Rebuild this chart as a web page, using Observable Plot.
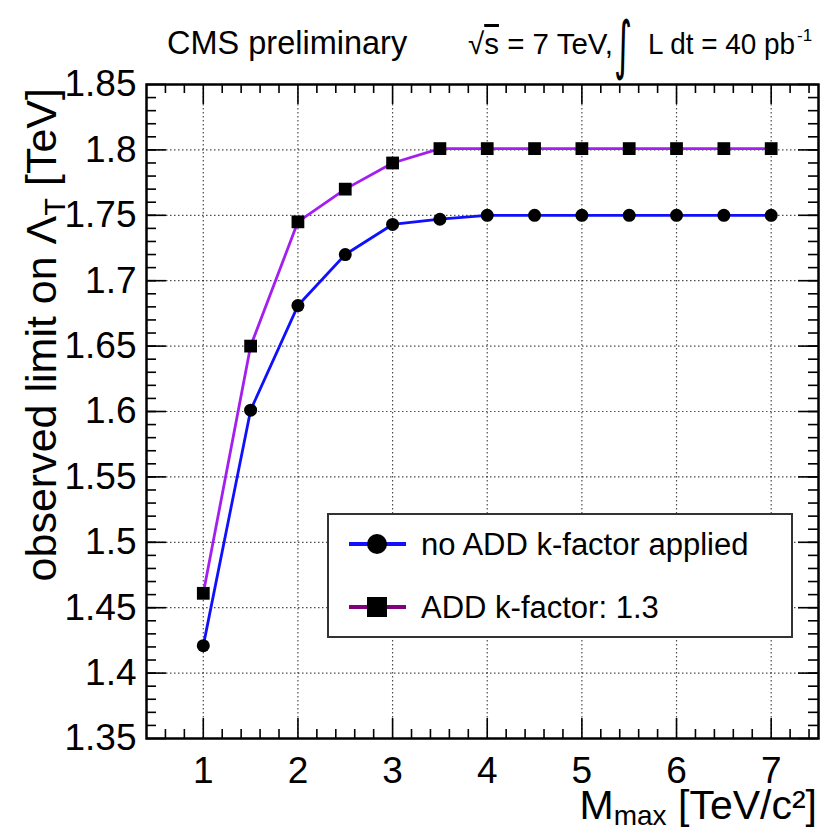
<!DOCTYPE html>
<html><head><meta charset="utf-8">
<script src="https://cdn.jsdelivr.net/npm/d3@7"></script>
<script src="https://cdn.jsdelivr.net/npm/@observablehq/plot@0.6"></script>
<style>
html,body{margin:0;padding:0;background:#fff;}
#chart{width:827px;height:831px;}
svg{display:block;}
</style></head><body><div id="chart"></div>
<script>
// ---- data ----
const mMax = [1, 1.5, 2, 2.5, 3, 3.5, 4, 4.5, 5, 5.5, 6, 6.5, 7];
const limitNoK = [1.421, 1.601, 1.681, 1.720, 1.743, 1.747, 1.750, 1.750, 1.750, 1.750, 1.750, 1.750, 1.750];
const limitK13 = [1.461, 1.650, 1.745, 1.770, 1.790, 1.801, 1.801, 1.801, 1.801, 1.801, 1.801, 1.801, 1.801];
const seriesNames = ["no ADD k-factor applied", "ADD k-factor: 1.3"];
const seriesColors = ["#1010ff", "#a31ff0"];
const legendColors = ["#1010ff", "#800080"];
const seriesSymbols = ["circle", "square"];
const xTicks = [1, 2, 3, 4, 5, 6, 7];
const xTickLabels = ["1", "2", "3", "4", "5", "6", "7"];
const yTicks = [1.35, 1.4, 1.45, 1.5, 1.55, 1.6, 1.65, 1.7, 1.75, 1.8, 1.85];
const yTickLabels = ["1.35", "1.4", "1.45", "1.5", "1.55", "1.6", "1.65", "1.7", "1.75", "1.8", "1.85"];

// ---- build table ----
const rows = [];
[limitNoK, limitK13].forEach((vals, s) => {
  vals.forEach((v, i) => rows.push({series: seriesNames[s], m: mMax[i], lim: v}));
});
const xDom = [0.4, 7.5], yDom = [1.35, 1.85];
const xMinor = d3.range(3, 38).map(i => i / 5).filter(v => !xTicks.includes(v));
const yMinor = d3.range(136, 185).map(i => i / 100);

const W = 827, H = 831;
const mL = 146, mR = 9, mT = 84, mB = 93;
const fw = W - mL - mR, fh = H - mT - mB;
// tick lengths expressed in data units of each scale
const px2y = (yDom[1] - yDom[0]) / fh, px2x = (xDom[1] - xDom[0]) / fw;
const font = "'Liberation Sans', Arial, Helvetica, sans-serif";
const tk = {stroke: "black", strokeWidth: 1.6};
const ticksBottom = (vals, len) => Plot.ruleX(vals, {x: d => d, y1: yDom[0], y2: yDom[0] + len * px2y, ...tk});
const ticksTop = (vals, len) => Plot.ruleX(vals, {x: d => d, y1: yDom[1], y2: yDom[1] - len * px2y, ...tk});
const ticksLeft = (vals, len) => Plot.ruleY(vals, {y: d => d, x1: xDom[0], x2: xDom[0] + len * px2x, ...tk});
const ticksRight = (vals, len) => Plot.ruleY(vals, {y: d => d, x1: xDom[1], x2: xDom[1] - len * px2x, ...tk});

const plot = Plot.plot({
  width: W, height: H,
  marginLeft: mL, marginRight: mR, marginTop: mT, marginBottom: mB,
  x: {domain: xDom},
  y: {domain: yDom},
  color: {domain: seriesNames, range: seriesColors},
  style: {fontFamily: font, fontSize: "37px", color: "black", background: "white", overflow: "visible"},
  marks: [
    Plot.gridX(xTicks, {stroke: "#000", strokeOpacity: 0.7, strokeDasharray: "1.5,2.5", strokeWidth: 1.2}),
    Plot.gridY(yTicks, {stroke: "#000", strokeOpacity: 0.7, strokeDasharray: "1.5,2.5", strokeWidth: 1.2}),
    ticksBottom(xMinor, 9), ticksBottom(xTicks, 20),
    ticksTop(xMinor, 9), ticksTop(xTicks, 20),
    ticksLeft(yMinor, 10), ticksLeft(yTicks, 20),
    ticksRight(yMinor, 10), ticksRight(yTicks, 20),
    Plot.axisX(xTicks, {anchor: "bottom", tickSize: 0, tickPadding: 18, label: null,
      tickFormat: (d, i) => xTickLabels[i], fontSize: 37}),
    Plot.axisY(yTicks, {anchor: "left", tickSize: 0, tickPadding: 10, label: null,
      tickFormat: (d, i) => yTickLabels[i], fontSize: 37}),
    Plot.line(rows, {x: "m", y: "lim", z: "series", stroke: "series", strokeWidth: 2.8}),
    Plot.dot(rows.filter(r => r.series === seriesNames[0]), {x: "m", y: "lim", r: 6.5, fill: "black", symbol: "circle"}),
    Plot.dot(rows.filter(r => r.series === seriesNames[1]), {x: "m", y: "lim", r: 7.2, fill: "black", symbol: "square"}),
    Plot.frame({stroke: "black", strokeWidth: 2.5})
  ]
});
document.getElementById("chart").appendChild(plot);

// ---- annotations ----
const svg = d3.select(plot);
const g = svg.append("g").attr("font-family", font).attr("fill", "black").attr("text-anchor", "start");

// header
const hb = 54;
g.append("text").attr("x", 167).attr("y", hb).attr("font-size", 32.5).text("CMS preliminary");
const h1 = g.append("text").attr("x", 468).attr("y", hb).attr("font-size", 30)
  .attr("textLength", 145).attr("lengthAdjust", "spacingAndGlyphs");
h1.append("tspan").text("√");
h1.append("tspan").attr("text-decoration", "overline").text("s");
h1.append("tspan").text(" = 7 TeV,");
g.append("text").attr("x", 614).attr("y", hb + 13).attr("font-size", 64)
  .attr("textLength", 18).attr("lengthAdjust", "spacingAndGlyphs")
  .attr("font-family", "'DejaVu Sans', sans-serif").text("∫");
g.append("text").attr("x", 648).attr("y", hb).attr("font-size", 29.5)
  .attr("textLength", 147).attr("lengthAdjust", "spacingAndGlyphs").text("L dt = 40 pb");
g.append("text").attr("x", 797).attr("y", hb - 13).attr("font-size", 17).text("-1");

// y axis title
const yt = g.append("text").attr("transform", "translate(56,88) rotate(-90)")
  .attr("text-anchor", "end").attr("font-size", 43);
yt.append("tspan").text("observed limit on Λ");
yt.append("tspan").attr("font-size", 29).attr("dy", 9).text("T");
yt.append("tspan").attr("dy", -9).text(" [TeV]");

// x axis title
const xt = g.append("text").attr("x", 817).attr("y", 819).attr("text-anchor", "end").attr("font-size", 41);
xt.append("tspan").text("M");
xt.append("tspan").attr("font-size", 28).attr("dy", 6).text("max");
xt.append("tspan").attr("dy", -6).text(" [TeV/c²]");

// legend
const lg = svg.append("g").attr("font-family", font).attr("text-anchor", "start");
lg.append("rect").attr("x", 328).attr("y", 514).attr("width", 464).attr("height", 123)
  .attr("fill", "white").attr("stroke", "#333").attr("stroke-width", 2);
seriesNames.forEach((name, i) => {
  const cy = 544 + i * 63;
  lg.append("line").attr("x1", 349).attr("x2", 406).attr("y1", cy).attr("y2", cy)
    .attr("stroke", legendColors[i]).attr("stroke-width", 4);
  if (seriesSymbols[i] === "circle") {
    lg.append("circle").attr("cx", 377).attr("cy", cy).attr("r", 10).attr("fill", "black");
  } else {
    lg.append("rect").attr("x", 367).attr("y", cy - 10).attr("width", 20).attr("height", 20).attr("fill", "black");
  }
  lg.append("text").attr("x", 421).attr("y", cy + 11).attr("font-size", 31).attr("fill", "black").text(name);
});
</script>
</body></html>
